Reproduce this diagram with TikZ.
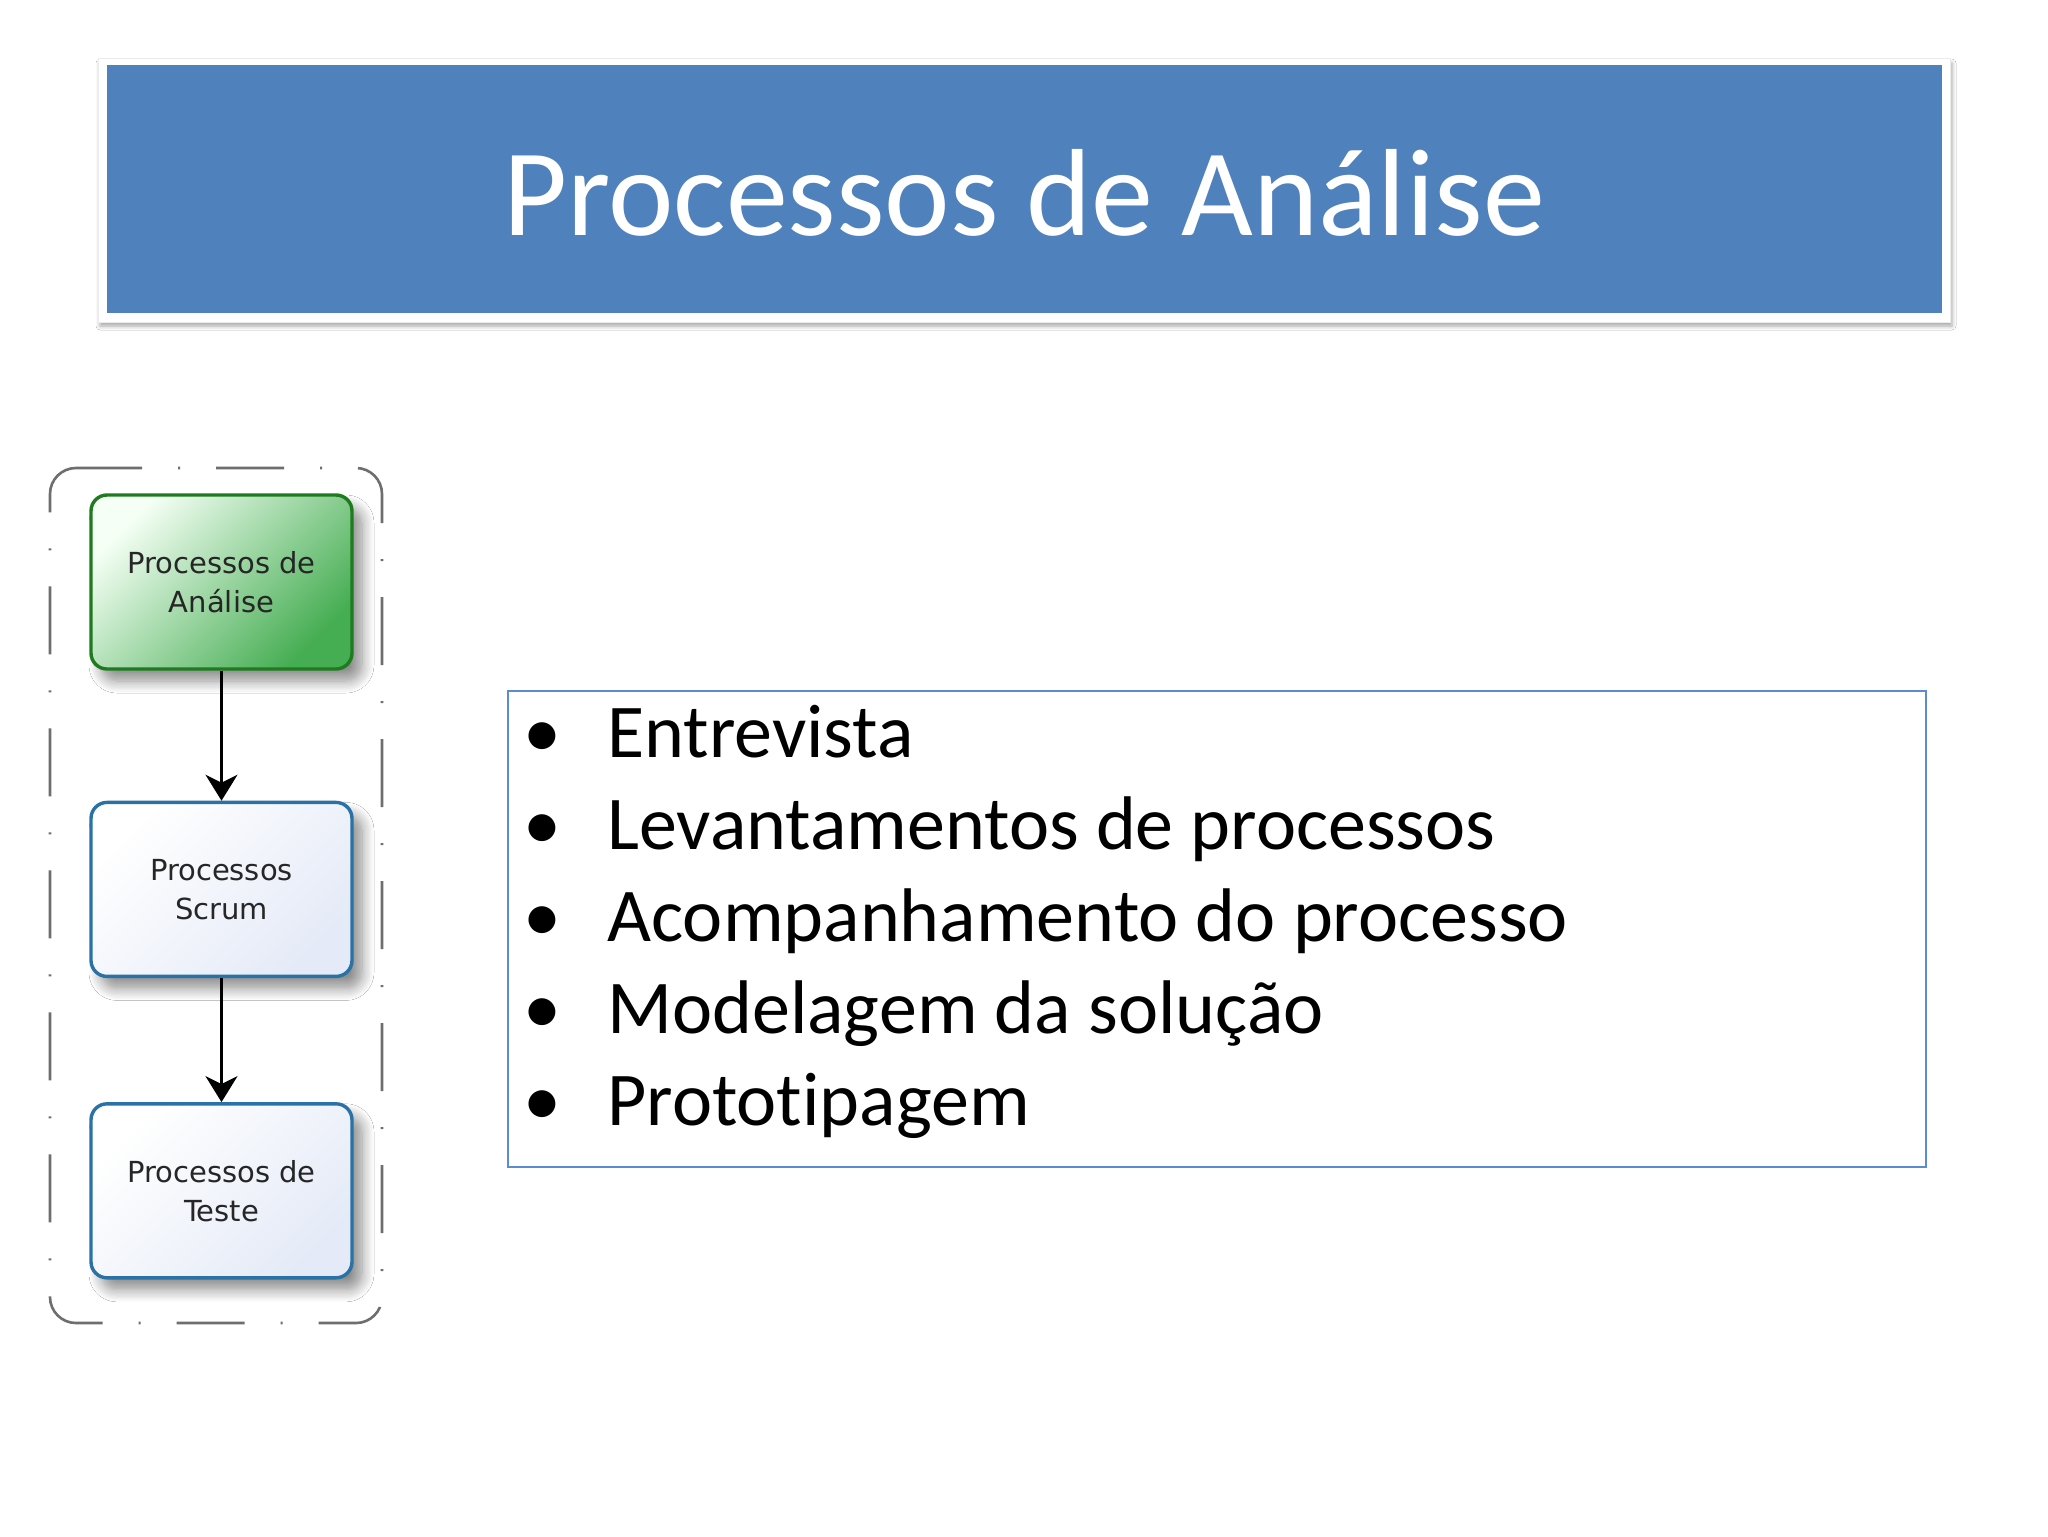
\documentclass[tikz,border=0pt]{standalone}
\usepackage{fontspec}
\setmainfont{Carlito}[Ligatures=NoCommon]
\newfontfamily\boxfont{DejaVu Sans}
\usepackage{xcolor}
\usetikzlibrary{positioning,shadows.blur,arrows.meta}
\definecolor{slideblue}{HTML}{4F81BD}
\definecolor{listblue}{HTML}{5B8BD0}
\definecolor{anagreen}{HTML}{1E7B1E}
\definecolor{anafill}{HTML}{45AD52}
\definecolor{procblue}{HTML}{2A72A6}
\definecolor{procfill}{HTML}{E4EAF7}
\definecolor{framegray}{HTML}{6E6E6E}
\tikzset{
	procbox/.style={rectangle, rounded corners=8pt, line width=1.7pt,
		minimum width=130.5pt, minimum height=87pt, align=center,
		font=\boxfont\fontsize{14.5}{19.5}\selectfont, text=black!85,
		blur shadow={shadow xshift=5pt, shadow yshift=-6pt, shadow blur steps=10,
			shadow blur radius=6pt, shadow opacity=45}},
	anabox/.style={procbox, draw=anagreen, top color=green!4, bottom color=anafill, shading angle=45},
	scrumbox/.style={procbox, draw=procblue, top color=white, bottom color=procfill, shading angle=45},
	flow/.style={line width=1.4pt, -{Stealth[length=13pt,width=16pt,inset=4pt]}},
	border/.style={framegray, line width=1.3pt, rounded corners=13pt},
	item/.style={font=\fontsize{38}{46}\selectfont, inner sep=0pt, anchor=base west},
	dot/.style={font=\fontsize{38}{46}\selectfont, inner sep=0pt, anchor=base}
}
\begin{document}
\begin{tikzpicture}[x=0.5pt,y=-0.5pt]
		\useasboundingbox[fill=white] (0,0) rectangle (2048,1536);
		\node[fill=white, draw=black!8, line width=.5pt, minimum width=926pt, minimum height=131.5pt,
			blur shadow={shadow xshift=1pt, shadow yshift=-2pt, shadow blur radius=2pt, shadow opacity=35}]
			(frame) at (1024,190.5) {};
		\node[fill=slideblue, minimum width=917.5pt, minimum height=124pt]
			(bar) at (1024.5,189) {};
		\node[font=\fontsize{62}{70}\selectfont, text=white, inner sep=0pt, anchor=base]
			(title) at (1024,235) {Processos de Análise};
		\draw[border] (50,511) -- (50,468) -- (142,468);
		\draw[border, dash pattern=on 34pt off 18pt on 1pt off 18pt, dash phase=34pt]
			(142,468) -- (382,468) -- (382,1323) -- (50,1323) -- (50,511);
		\node[anabox] (ana) at (221.5,582) {Processos de\\Análise};
		\node[scrumbox, below=65pt of ana] (scrum) {Processos\\Scrum};
		\node[scrumbox, below=62pt of scrum] (teste) {Processos de\\Teste};
		\draw[flow] (ana) -- (scrum);
		\draw[flow] (scrum) -- (teste);
		\node[draw=listblue, line width=1pt, minimum width=709pt, minimum height=238pt]
			(list) at (1217,929) {};
		\node[dot] (d1) at (542,757) {•};
		\node[item] (i1) at (607,757) {Entrevista};
		\node[dot] (d2) at (542,849) {•};
		\node[item] (i2) at (607,849) {Levantamentos de processos};
		\node[dot] (d3) at (542,941) {•};
		\node[item] (i3) at (607,941) {Acompanhamento do processo};
		\node[dot] (d4) at (542,1033) {•};
		\node[item] (i4) at (607,1033) {Modelagem da solução};
		\node[dot] (d5) at (542,1125) {•};
		\node[item] (i5) at (607,1125) {Prototipagem};
	\end{tikzpicture}
\end{document}
